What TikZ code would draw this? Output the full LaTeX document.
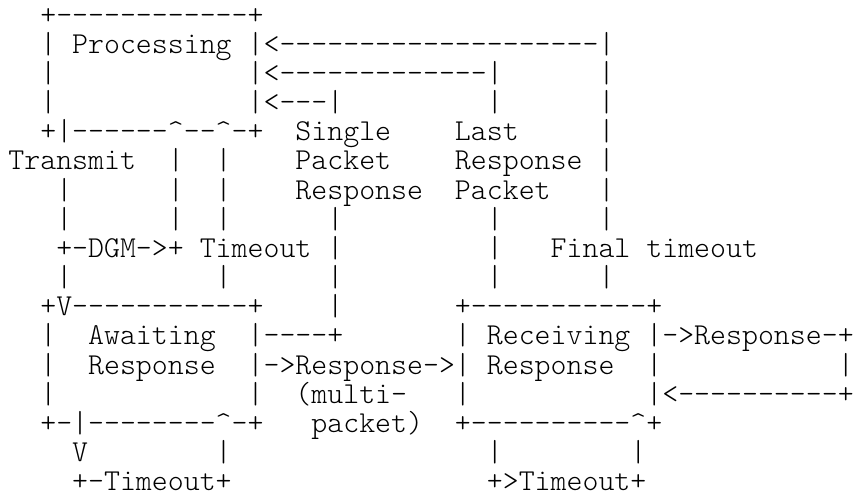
\documentclass[tikz,border=0pt]{standalone}
\usepackage{tikz}

\newcommand\asciifont{\ttfamily\fontseries{l}\fontsize{30.38}{34}\selectfont}
\newcommand\dashes[1]{\foreach \k in {1,...,#1}{-\kern0pt}}
\newcommand\caret{\textasciicircum}

\begin{document}
\begin{tikzpicture}[x=15.95pt, y=-29.16pt,
    ascii/.style={anchor=base west, inner sep=0pt, outer sep=0pt, font=\asciifont}]
    \useasboundingbox (-0.527,0.1735) rectangle (53.08,17.252);

    % Processing box and the three returns into it
    \node[ascii] (proctop) at (2,1) {+\dashes{12}+};
    \node[ascii] (proc) at (4,2) {Processing};
    \node[ascii] (finalin) at (15,2) {|<\dashes{20}|};
    \node[ascii] (lastin) at (15,3) {|<\dashes{13}|};
    \node[ascii] (singlein) at (15,4) {|<\dashes{3}|};
    \node[ascii] (procbot) at (2,5) {+|\dashes{6}\caret\dashes{2}\caret-+};
    \node[ascii] (single) at (18,5) {Single};
    \node[ascii] (last) at (28,5) {Last};
    \node[ascii] (transmit) at (0,6) {Transmit};
    \node[ascii] (packet1) at (18,6) {Packet};
    \node[ascii] (response2) at (28,6) {Response};
    \node[ascii] (response1) at (18,7) {Response};
    \node[ascii] (packet2) at (28,7) {Packet};
    \node[ascii] (dgm) at (3,9) {+-DGM->+};
    \node[ascii] (timeout1) at (12,9) {Timeout};
    \node[ascii] (finalto) at (34,9) {Final timeout};

    % Awaiting Response box
    \node[ascii] (awaittop) at (2,11) {+V\dashes{11}+};
    \node[ascii] (await) at (5,12) {Awaiting};
    \node[ascii] (multiout) at (15,12) {|\dashes{4}+};
    \node[ascii] (await2) at (5,13) {Response};
    \node[ascii] (multiresp) at (15,13) {|->Response->|};
    \node[ascii] (multi) at (18,14) {(multi-};
    \node[ascii] (awaitbot) at (2,15) {+-|\dashes{8}\caret-+};
    \node[ascii] (packet3) at (19,15) {packet)};
    \node[ascii] (awaitv) at (4,16) {V};
    \node[ascii] (awaitto) at (4,17) {+-Timeout+};

    % Receiving Response box
    \node[ascii] (recvtop) at (28,11) {+\dashes{11}+};
    \node[ascii] (recv) at (30,12) {Receiving};
    \node[ascii] (respout) at (40,12) {|->Response-+};
    \node[ascii] (recv2) at (30,13) {Response};
    \node[ascii] (respin) at (40,14) {|<\dashes{10}+};
    \node[ascii] (recvbot) at (28,15) {+\dashes{10}\caret+};
    \node[ascii] (recvto) at (30,17) {+>Timeout+};

    % single bars
    \foreach \c/\r in {2/2, 2/3, 37/3, 2/4, 30/4, 37/4, 37/5, 10/6, 13/6, 37/6,
        3/7, 10/7, 13/7, 37/7, 3/8, 10/8, 13/8, 20/8, 30/8, 37/8, 20/9, 30/9,
        3/10, 13/10, 20/10, 30/10, 37/10, 20/11, 2/12, 28/12, 2/13, 40/13, 52/13,
        2/14, 15/14, 28/14, 13/16, 30/16, 39/16}
      \node[ascii] (bar-\c-\r) at (\c,\r) {|};
  \end{tikzpicture}
\end{document}
